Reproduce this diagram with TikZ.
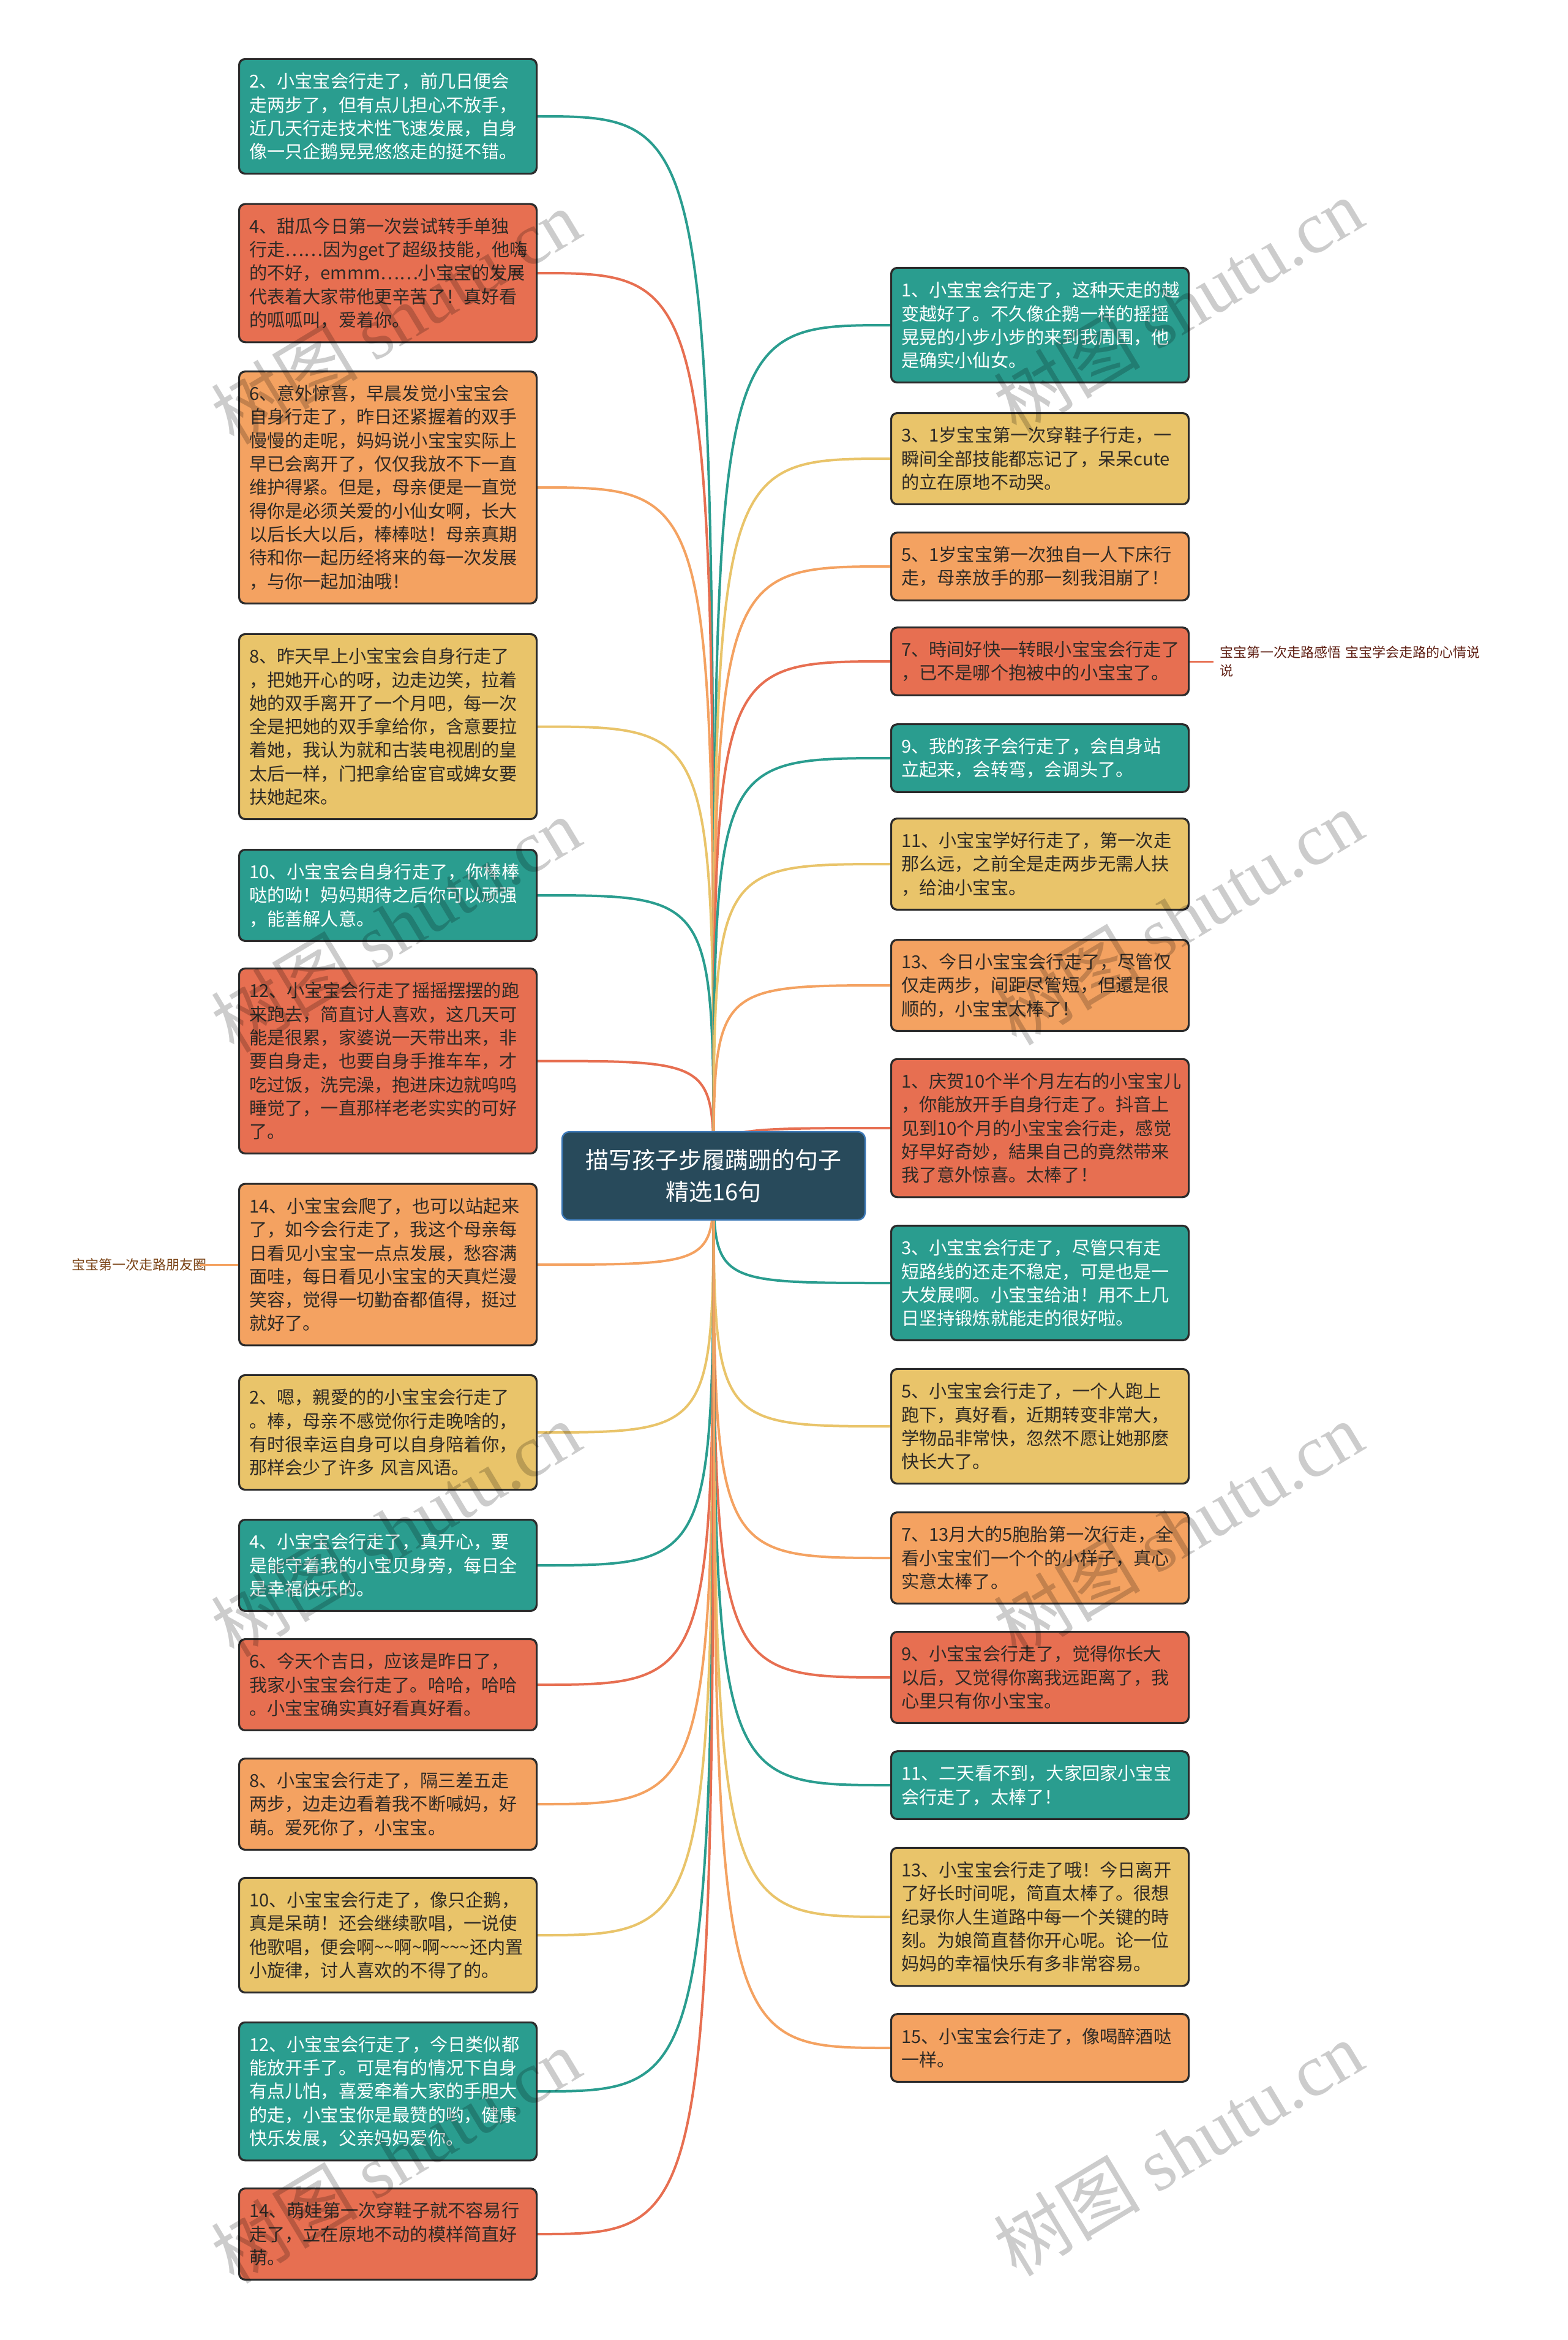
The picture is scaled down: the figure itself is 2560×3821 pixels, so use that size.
\documentclass[tikz,border=0pt]{standalone}
\usepackage{fontspec}
\setmainfont{Noto Sans CJK SC}
\newfontfamily\wmserif{Liberation Serif}
\definecolor{cteal}{HTML}{2A9D8F}
\definecolor{cred}{HTML}{E76F51}
\definecolor{corange}{HTML}{F4A261}
\definecolor{cyellow}{HTML}{E9C46A}
\definecolor{ctext}{HTML}{2E2A26}
\definecolor{cborder}{HTML}{2B2B2B}
\definecolor{croot}{HTML}{284A5B}
\definecolor{crootb}{HTML}{3C79B8}
\definecolor{clabl}{HTML}{7A4315}
\definecolor{clabr}{HTML}{5E1E12}
\tikzset{
  box/.style={draw=cborder, line width=2pt, rounded corners=10pt, text width=453pt,
    inner xsep=16pt, inner ysep=0pt, align=left, font=\fontsize{29.2}{38.3}\selectfont},
  tealbox/.style={box, fill=cteal, text=white},
  redbox/.style={box, fill=cred, text=ctext},
  orangebox/.style={box, fill=corange, text=ctext},
  yellowbox/.style={box, fill=cyellow, text=ctext},
  lines2/.style={minimum height=109.6pt},
  lines3/.style={minimum height=147.9pt},
  lines4/.style={minimum height=186.2pt},
  lines5/.style={minimum height=224.5pt},
  lines6/.style={minimum height=262.8pt},
  lines7/.style={minimum height=301.1pt},
  lines9/.style={minimum height=377.7pt},
  rootbox/.style={draw=crootb, line width=2.5pt, fill=croot, text=white, rounded corners=12pt,
    minimum width=495pt, minimum height=144pt, align=center, font=\fontsize{38}{52}\selectfont},
  edge/.style={line width=4pt},
  sidelabel/.style={font=\fontsize{22}{30}\selectfont, inner sep=0pt},
  wm/.style={font=\fontsize{120}{120}\selectfont, text=black, opacity=0.2, rotate=31}
}
\begin{document}
\begin{tikzpicture}[x=1pt,y=-1pt]
\useasboundingbox (0,0) rectangle (2560,3821);
\fill[white] (0,0) rectangle (2560,3821);
\coordinate (C) at (1165.5,1920);

% ---------- left column ----------
\node[tealbox,lines4] (L2) at (633.5,190) {2、小宝宝会行走了，前几日便会\\走两步了，但有点儿担心不放手，\\近几天行走技术性飞速发展，自身\\像一只企鹅晃晃悠悠走的挺不错。};
\node[redbox,lines5] (L4) at (633.5,446) {4、甜瓜今日第一次尝试转手单独\\行走……因为get了超级技能，他嗨\\的不好，emmm……小宝宝的发展\\代表着大家带他更辛苦了！真好看\\的呱呱叫，爱着你。};
\node[orangebox,lines9] (L6) at (633.5,796) {6、意外惊喜，早晨发觉小宝宝会\\自身行走了，昨日还紧握着的双手\\慢慢的走呢，妈妈说小宝宝实际上\\早已会离开了，仅仅我放不下一直\\维护得紧。但是，母亲便是一直觉\\得你是必须关爱的小仙女啊，长大\\以后长大以后，棒棒哒！母亲真期\\待和你一起历经将来的每一次发展\\，与你一起加油哦！};
\node[yellowbox,lines7] (L8) at (633.5,1186.5) {8、昨天早上小宝宝会自身行走了\\，把她开心的呀，边走边笑，拉着\\她的双手离开了一个月吧，每一次\\全是把她的双手拿给你，含意要拉\\着她，我认为就和古装电视剧的皇\\太后一样，门把拿给宦官或婢女要\\扶她起來。};
\node[tealbox,lines3] (L10) at (633.5,1462) {10、小宝宝会自身行走了，你棒棒\\哒的呦！妈妈期待之后你可以顽强\\，能善解人意。};
\node[redbox,lines7] (L12) at (633.5,1732.5) {12、小宝宝会行走了摇摇摆摆的跑\\来跑去，简直讨人喜欢，这几天可\\能是很累，家婆说一天带出来，非\\要自身走，也要自身手推车车，才\\吃过饭，洗完澡，抱进床边就呜呜\\睡觉了，一直那样老老实实的可好\\了。};
\node[orangebox,lines6] (L14) at (633.5,2065) {14、小宝宝会爬了，也可以站起来\\了，如今会行走了，我这个母亲每\\日看见小宝宝一点点发展，愁容满\\面哇，每日看见小宝宝的天真烂漫\\笑容，觉得一切勤奋都值得，挺过\\就好了。};
\node[yellowbox,lines4] (L2b) at (633.5,2339) {2、嗯，親愛的的小宝宝会行走了\\。棒，母亲不感觉你行走晚啥的，\\有时很幸运自身可以自身陪着你，\\那样会少了许多 风言风语。};
\node[tealbox,lines3] (L4b) at (633.5,2556) {4、小宝宝会行走了，真开心，要\\是能守着我的小宝贝身旁，每日全\\是幸福快乐的。};
\node[redbox,lines3] (L6b) at (633.5,2751) {6、今天个吉日，应该是昨日了，\\我家小宝宝会行走了。哈哈，哈哈\\。小宝宝确实真好看真好看。};
\node[orangebox,lines3] (L8b) at (633.5,2946) {8、小宝宝会行走了，隔三差五走\\两步，边走边看着我不断喊妈，好\\萌。爱死你了，小宝宝。};
\node[yellowbox,lines4] (L10b) at (633.5,3160) {10、小宝宝会行走了，像只企鹅，\\真是呆萌！还会继续歌唱，一说使\\他歌唱，便会啊\textasciitilde\textasciitilde 啊\textasciitilde 啊\textasciitilde\textasciitilde\textasciitilde 还内置\\小旋律，讨人喜欢的不得了的。};
\node[tealbox,lines5] (L12b) at (633.5,3415) {12、小宝宝会行走了，今日类似都\\能放开手了。可是有的情况下自身\\有点儿怕，喜爱牵着大家的手胆大\\的走，小宝宝你是最赞的哟，健康\\快乐发展，父亲妈妈爱你。};
\node[redbox,lines3] (L14b) at (633.5,3648) {14、萌娃第一次穿鞋子就不容易行\\走了，立在原地不动的模样简直好\\萌。};

% ---------- right column ----------
\node[tealbox,lines4] (R1) at (1698.5,531) {1、小宝宝会行走了，这种天走的越\\变越好了。不久像企鹅一样的摇摇\\晃晃的小步小步的来到我周围，他\\是确实小仙女。};
\node[yellowbox,lines3] (R3) at (1698.5,749) {3、1岁宝宝第一次穿鞋子行走，一\\瞬间全部技能都忘记了，呆呆cute\\的立在原地不动哭。};
\node[orangebox,lines2] (R5) at (1698.5,925) {5、1岁宝宝第一次独自一人下床行\\走，母亲放手的那一刻我泪崩了！};
\node[redbox,lines2] (R7) at (1698.5,1080) {7、時间好快一转眼小宝宝会行走了\\，已不是哪个抱被中的小宝宝了。};
\node[tealbox,lines2] (R9) at (1698.5,1238) {9、我的孩子会行走了，会自身站\\立起来，会转弯，会调头了。};
\node[yellowbox,lines3] (R11) at (1698.5,1411) {11、小宝宝学好行走了，第一次走\\那么远，之前全是走两步无需人扶\\，给油小宝宝。};
\node[orangebox,lines3] (R13) at (1698.5,1609) {13、今日小宝宝会行走了，尽管仅\\仅走两步，间距尽管短，但還是很\\顺的，小宝宝太棒了！};
\node[redbox,lines5] (R1b) at (1698.5,1842) {1、庆贺10个半个月左右的小宝宝儿\\，你能放开手自身行走了。抖音上\\见到10个月的小宝宝会行走，感觉\\好早好奇妙，結果自己的竟然带来\\我了意外惊喜。太棒了！};
\node[tealbox,lines4] (R3b) at (1698.5,2095) {3、小宝宝会行走了，尽管只有走\\短路线的还走不稳定，可是也是一\\大发展啊。小宝宝给油！用不上几\\日坚持锻炼就能走的很好啦。};
\node[yellowbox,lines4] (R5b) at (1698.5,2329) {5、小宝宝会行走了，一个人跑上\\跑下，真好看，近期转变非常大，\\学物品非常快，忽然不愿让她那麼\\快长大了。};
\node[orangebox,lines3] (R7b) at (1698.5,2544) {7、13月大的5胞胎第一次行走，全\\看小宝宝们一个个的小样子，真心\\实意太棒了。};
\node[redbox,lines3] (R9b) at (1698.5,2739) {9、小宝宝会行走了，觉得你长大\\以后，又觉得你离我远距离了，我\\心里只有你小宝宝。};
\node[tealbox,lines2] (R11b) at (1698.5,2915) {11、二天看不到，大家回家小宝宝\\会行走了，太棒了！};
\node[yellowbox,lines5] (R13b) at (1698.5,3130) {13、小宝宝会行走了哦！今日离开\\了好长时间呢，简直太棒了。很想\\纪录你人生道路中每一个关键的時\\刻。为娘简直替你开心呢。论一位\\妈妈的幸福快乐有多非常容易。};
\node[orangebox,lines2] (R15b) at (1698.5,3344) {15、小宝宝会行走了，像喝醉酒哒\\一样。};

% ---------- side labels ----------
\node[sidelabel, text=clabl, anchor=east] (LL) at (338,2065) {宝宝第一次走路朋友圈};
\node[sidelabel, text=clabr, anchor=west, text width=445pt, align=left] (RL) at (1992,1080) {宝宝第一次走路感悟 宝宝学会走路的心情说\\说};

% ---------- connectors (behind) ----------
\begin{scope}[on background layer/.try]
\end{scope}
\foreach \n/\c in {L2/cteal,L4/cred,L6/corange,L8/cyellow,L10/cteal,L12/cred,L14/corange,L2b/cyellow,L4b/cteal,L6b/cred,L8b/corange,L10b/cyellow,L12b/cteal,L14b/cred}{
  \draw[edge,draw=\c] (C) .. controls (C |- \n.east) .. (\n.east);
}
\foreach \n/\c in {R1/cteal,R3/cyellow,R5/corange,R7/cred,R9/cteal,R11/cyellow,R13/corange,R1b/cred,R3b/cteal,R5b/cyellow,R7b/corange,R9b/cred,R11b/cteal,R13b/cyellow,R15b/corange}{
  \draw[edge,draw=\c] (C) .. controls (C |- \n.west) .. (\n.west);
}
\draw[line width=3pt,draw=corange] (L14.west) -- ([xshift=-11pt]LL.east);
\draw[line width=3pt,draw=cred] (R7.east) -- ([xshift=-10pt]RL.west);

% ---------- redraw boxes over connectors ----------
\foreach \n in {L2,L4,L6,L8,L10,L12,L14,L2b,L4b,L6b,L8b,L10b,L12b,L14b,R1,R3,R5,R7,R9,R11,R13,R1b,R3b,R5b,R7b,R9b,R11b,R13b,R15b}{
  \draw[draw=cborder,line width=2pt,rounded corners=10pt] (\n.north west) rectangle (\n.south east);
}
\node[rootbox] (root) at (C) {描写孩子步履蹒跚的句子\\精选16句};

% ---------- watermarks ----------
\foreach \x/\y in {646/517,1924/499,646/1510,1924/1498,646/2497,1924/2497,646/3520,1924/3508}{
  \node[wm] at (\x,\y) {树图 {\wmserif shutu.cn}};
}
\end{tikzpicture}
\end{document}
